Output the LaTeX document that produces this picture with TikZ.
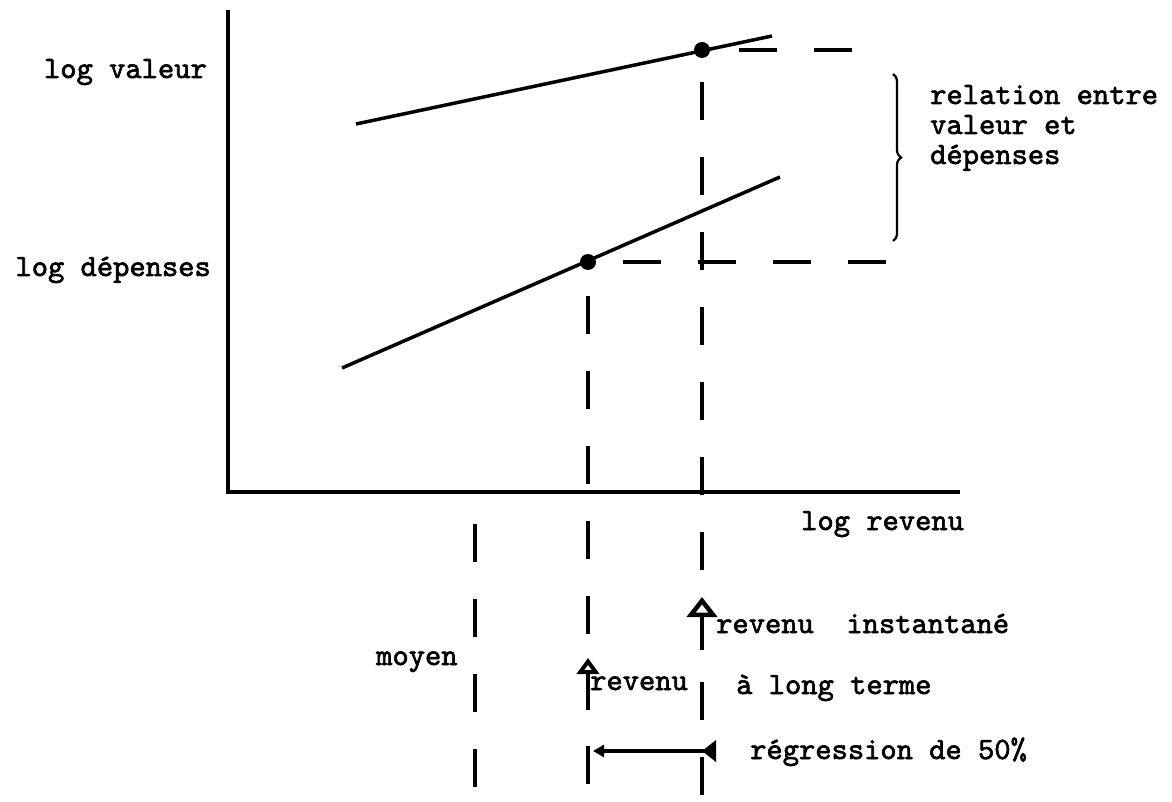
\documentclass[tikz,border=0pt]{standalone}
\usepackage{fontspec}
\newfontfamily\typew{lmmono10-regular}[Extension=.otf, FakeBold=2]
\usetikzlibrary{arrows.meta,decorations.pathreplacing}
\begin{document}
\begin{tikzpicture}[x=1pt,y=-1pt,
  lbl/.style={inner sep=0pt, font=\fontsize{31}{36}\selectfont\typew},
  axisline/.style={line width=4pt, line join=miter},
  curve/.style={line width=3.5pt},
  guide/.style={line width=4pt, dash pattern=on 38pt off 37pt},
  dotnode/.style={circle, fill=black, inner sep=0pt, minimum size=16pt},
  uparrow/.style={line width=4pt},
]
\useasboundingbox (0,0) rectangle (1172,802);
% axes
\coordinate (yt) at (228,10);
\coordinate (o) at (228,492);
\coordinate (xr) at (960,492);
\draw[axisline] (yt) -- (o) -- (xr);
% curves
\coordinate (v1) at (356,124);
\coordinate (v2) at (772,36);
\coordinate (d1) at (342,368);
\coordinate (d2) at (780,177);
\draw[curve] (v1) -- (v2);
\draw[curve] (d1) -- (d2);
\node[dotnode] (pv) at (702,50) {};
\node[dotnode] (pd) at (588,262) {};
% guide lines
\coordinate (pvbot) at (702,800);
\coordinate (pdbot) at (588,800);
\coordinate (mtop) at (475,524);
\coordinate (mbot) at (475,800);
\coordinate (pvright) at (853,50);
\coordinate (pdright) at (888,262);
\draw[guide, dash phase=43pt] (pv.center) -- (pvbot);
\draw[guide, dash phase=41pt] (pd.center) -- (pdbot);
\draw[guide] (mtop) -- (mbot);
\draw[guide, dash phase=38pt] (pv.center) -- (pvright);
\draw[guide, dash phase=40pt] (pd.center) -- (pdright);
% brace
\coordinate (b1) at (893,74);
\coordinate (b2) at (893,241);
\draw[line width=2.2pt, decorate, decoration={brace, amplitude=8pt}] (b1) -- (b2);
% arrows
\coordinate (ia1) at (702,650);
\coordinate (ia2) at (702,597);
\coordinate (la1) at (588,710);
\coordinate (la2) at (588,658);
\draw[uparrow, -{Triangle[open, fill=white, length=20pt, width=30pt, line width=4.5pt]}] (ia1) -- (ia2);
\draw[uparrow, -{Triangle[open, fill=white, length=16pt, width=22pt, line width=4pt]}] (la1) -- (la2);
\coordinate (ra) at (716,751);
\coordinate (rb) at (593,751);
\draw[line width=3.5pt, {Triangle[reversed, length=14pt, width=21pt]}-{Triangle[length=11pt, width=12pt]}] (ra) -- (rb);
% labels
\node[lbl, anchor=base east] (lv) at (207,78) {log valeur};
\node[lbl, anchor=base east] (ld) at (211,276) {log dépenses};
\node[lbl, anchor=base west] (r1) at (930,104) {relation entre};
\node[lbl, anchor=base west] (r2) at (930,134) {valeur et};
\node[lbl, anchor=base west] (r3) at (930,164) {dépenses};
\node[lbl, anchor=base west] (lr) at (801,530) {log revenu};
\node[lbl, anchor=base west] (ri) at (716,633) {revenu\ \ instantané};
\node[lbl, anchor=base west] (rl) at (590,690) {revenu};
\node[lbl, anchor=base west] (alt) at (736,694) {à long terme};
\node[lbl, anchor=base west] (my) at (376,665) {moyen};
\node[lbl, anchor=base west] (rg) at (750,759) {régression de 50\%};
\end{tikzpicture}
\end{document}
